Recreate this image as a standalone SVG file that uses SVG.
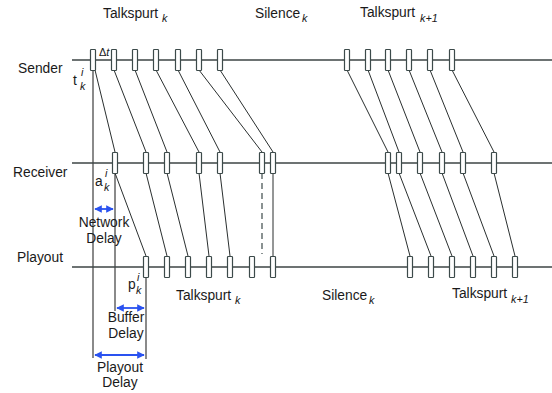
<svg xmlns="http://www.w3.org/2000/svg" width="552" height="393" viewBox="0 0 552 393">
<style>
.t{font-family:"Liberation Sans",Arial,sans-serif;font-size:13.8px;fill:#1a1a1a}
.s{font-family:"Liberation Sans",Arial,sans-serif;font-size:10.8px;font-style:italic;fill:#1a1a1a}
.ax{stroke:#3c4444;stroke-width:1.3;fill:none}
.pk{fill:#fff;stroke:#3c4a4a;stroke-width:1.2}
.c{stroke:#2a2f2f;stroke-width:1;fill:none}
.v{stroke:#2a2a2a;stroke-width:1.1;fill:none}
.d{stroke:#3c4a4a;stroke-width:1.2;stroke-dasharray:6,4;fill:none}
.ar{stroke:#2a52f0;stroke-width:1.8;fill:none;marker-start:url(#ah);marker-end:url(#ah)}
</style>
<defs>
<marker id="ah" viewBox="0 0 10 10" refX="9" refY="5" markerWidth="4.2" markerHeight="4.2" orient="auto-start-reverse" markerUnits="strokeWidth">
<path d="M0,0 L10,5 L0,10 z" fill="#2a52f0"/>
</marker>
<rect id="p" x="-2.5" y="-10.5" width="5" height="21" rx="0.8"/>
</defs>

<g id="connectors">
<line class="c" x1="95" y1="70" x2="115" y2="152"/>
<line class="c" x1="114" y1="70" x2="146" y2="152"/>
<line class="c" x1="135" y1="70" x2="167" y2="152"/>
<line class="c" x1="156" y1="70" x2="199" y2="152"/>
<line class="c" x1="178" y1="70" x2="220" y2="152"/>
<line class="c" x1="199" y1="70" x2="262" y2="152"/>
<line class="c" x1="220" y1="70" x2="273" y2="152"/>
<line class="c" x1="347" y1="70" x2="388" y2="152"/>
<line class="c" x1="368" y1="70" x2="399" y2="152"/>
<line class="c" x1="388" y1="70" x2="420" y2="152"/>
<line class="c" x1="409" y1="70" x2="442" y2="152"/>
<line class="c" x1="430" y1="70" x2="463" y2="152"/>
<line class="c" x1="452" y1="70" x2="494" y2="152"/>
<line class="c" x1="115" y1="173" x2="146" y2="256"/>
<line class="c" x1="146" y1="173" x2="167" y2="256"/>
<line class="c" x1="167" y1="173" x2="188" y2="256"/>
<line class="c" x1="199" y1="173" x2="209" y2="256"/>
<line class="c" x1="220" y1="173" x2="230" y2="256"/>
<line class="d" x1="262" y1="173" x2="262" y2="254"/>
<line class="c" x1="273" y1="173" x2="273" y2="256"/>
<line class="c" x1="388" y1="173" x2="410" y2="256"/>
<line class="c" x1="399" y1="173" x2="431" y2="256"/>
<line class="c" x1="420" y1="173" x2="452" y2="256"/>
<line class="c" x1="442" y1="173" x2="473" y2="256"/>
<line class="c" x1="463" y1="173" x2="494" y2="256"/>
<line class="c" x1="494" y1="173" x2="515" y2="256"/>
<line class="v" x1="93" y1="70" x2="93" y2="358"/>
<line class="v" x1="115" y1="173" x2="115" y2="311"/>
<line class="v" x1="146" y1="277" x2="146" y2="359"/>
<line class="ar" x1="95" y1="209" x2="113" y2="209"/>
<line class="ar" x1="117" y1="308" x2="144" y2="308"/>
<line class="ar" x1="95" y1="355" x2="144" y2="355"/>
</g>

<g id="sender">
<line class="ax" x1="72" y1="60" x2="552" y2="60"/>
<use href="#p" class="pk" x="93" y="60"/>
<use href="#p" class="pk" x="114" y="60"/>
<use href="#p" class="pk" x="135" y="60"/>
<use href="#p" class="pk" x="156" y="60"/>
<use href="#p" class="pk" x="178" y="60"/>
<use href="#p" class="pk" x="199" y="60"/>
<use href="#p" class="pk" x="220" y="60"/>
<use href="#p" class="pk" x="347" y="60"/>
<use href="#p" class="pk" x="368" y="60"/>
<use href="#p" class="pk" x="388" y="60"/>
<use href="#p" class="pk" x="409" y="60"/>
<use href="#p" class="pk" x="430" y="60"/>
<use href="#p" class="pk" x="452" y="60"/>
<text class="t" x="18" y="73">Sender</text>
<text class="t" x="73" y="85">t</text>
<text class="s" x="81" y="76">i</text>
<text class="s" x="80" y="90">k</text>
<text class="t" x="99" y="56" style="font-size:11px">Δ<tspan font-style="italic">t</tspan></text>
</g>

<g id="receiver">
<line class="ax" x1="72" y1="163" x2="552" y2="163"/>
<use href="#p" class="pk" x="115" y="163"/>
<use href="#p" class="pk" x="146" y="163"/>
<use href="#p" class="pk" x="167" y="163"/>
<use href="#p" class="pk" x="199" y="163"/>
<use href="#p" class="pk" x="220" y="163"/>
<use href="#p" class="pk" x="262" y="163"/>
<use href="#p" class="pk" x="273" y="163"/>
<use href="#p" class="pk" x="388" y="163"/>
<use href="#p" class="pk" x="399" y="163"/>
<use href="#p" class="pk" x="420" y="163"/>
<use href="#p" class="pk" x="442" y="163"/>
<use href="#p" class="pk" x="463" y="163"/>
<use href="#p" class="pk" x="494" y="163"/>
<text class="t" x="13" y="177">Receiver</text>
<text class="t" x="95" y="186">a</text>
<text class="s" x="105" y="177">i</text>
<text class="s" x="104" y="191">k</text>
</g>

<g id="playout">
<line class="ax" x1="72" y1="267" x2="552" y2="267"/>
<use href="#p" class="pk" x="146" y="267"/>
<use href="#p" class="pk" x="167" y="267"/>
<use href="#p" class="pk" x="188" y="267"/>
<use href="#p" class="pk" x="209" y="267"/>
<use href="#p" class="pk" x="230" y="267"/>
<use href="#p" class="pk" x="252" y="267"/>
<use href="#p" class="pk" x="273" y="267"/>
<use href="#p" class="pk" x="410" y="267"/>
<use href="#p" class="pk" x="431" y="267"/>
<use href="#p" class="pk" x="452" y="267"/>
<use href="#p" class="pk" x="473" y="267"/>
<use href="#p" class="pk" x="494" y="267"/>
<use href="#p" class="pk" x="515" y="267"/>
<text class="t" x="17" y="262">Playout</text>
<text class="t" x="128" y="289">p</text>
<text class="s" x="137" y="281">i</text>
<text class="s" x="136" y="294">k</text>
</g>

<g id="labels-top">
<text class="t" x="103" y="18">Talkspurt</text>
<text class="s" x="162" y="22">k</text>
<text class="t" x="255" y="18">Silence</text>
<text class="s" x="302" y="22">k</text>
<text class="t" x="360" y="17">Talkspurt</text>
<text class="s" x="420" y="22">k+1</text>
</g>

<g id="labels-bottom">
<text class="t" x="176" y="300">Talkspurt</text>
<text class="s" x="235" y="304">k</text>
<text class="t" x="322" y="300">Silence</text>
<text class="s" x="369" y="304">k</text>
<text class="t" x="452" y="298">Talkspurt</text>
<text class="s" x="511" y="303">k+1</text>
</g>

<g id="delay-labels" text-anchor="middle">
<text class="t" x="104" y="227">Network</text>
<text class="t" x="104" y="243">Delay</text>
<text class="t" x="126" y="322">Buffer</text>
<text class="t" x="126" y="338">Delay</text>
<text class="t" x="120" y="372">Playout</text>
<text class="t" x="120" y="387">Delay</text>
</g>
</svg>
